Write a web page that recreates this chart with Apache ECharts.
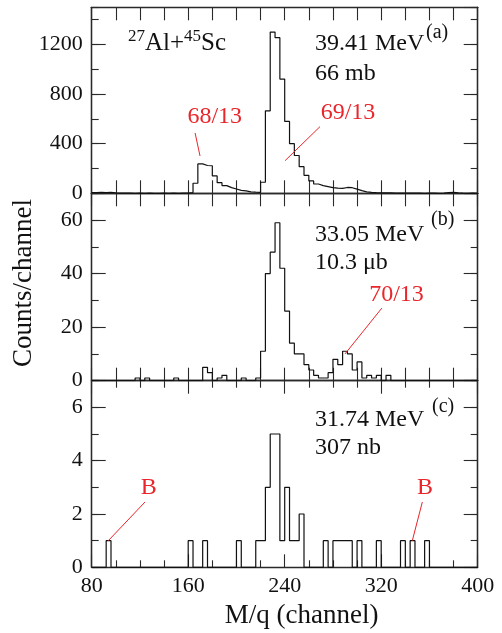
<!DOCTYPE html>
<html>
<head>
<meta charset="utf-8">
<script src="https://cdn.jsdelivr.net/npm/echarts@6/dist/echarts.min.js"></script>
<style>
  html, body { margin: 0; padding: 0; background: #fff; }
  #chart { width: 502px; height: 633px; }
</style>
</head>
<body>
<div id="chart"></div>
<script>
// Histogram binning: 4-channel bins from channel 80 up to 400
const FIRST_CHANNEL = 80;
const BIN_WIDTH = 4;

// (a) 39.41 MeV, counts per bin
const countsA = [
  6, 8, 5, 7, 4, 2, 1, 1, 0, 1,
  0, 1, 0, 0, 1, 0, 1, 0, 1, 2,
  6, 81, 237, 224, 222, 140, 86, 62, 46, 35,
  24, 19, 12, 9, 8, 89, 665, 1300, 1255, 921,
  580, 400, 305, 215, 145, 100, 75, 62, 54, 46,
  41, 40, 47, 45, 34, 22, 12, 8, 5, 4,
  3, 3, 2, 2, 1, 2, 1, 1, 0, 1,
  1, 0, 1, 6, 8, 4, 1, 0, 1, 0
];

// (b) 33.05 MeV, counts per bin
const countsB = [
  0, 0, 0, 0, 0, 0, 0, 0, 0, 1,
  0, 1, 0, 0, 0, 0, 0, 1, 0, 0,
  0, 0, 0, 5, 3, 0, 1, 2, 0, 0,
  0, 1, 0, 0, 1, 11, 40, 48, 59, 42,
  26, 14, 10, 10, 6, 4, 2, 1, 1, 3,
  8, 6, 11, 10, 4, 7, 1, 2, 1, 2,
  0, 2, 0, 0, 0, 0, 0, 0, 0, 0,
  0, 0, 0, 0, 0, 0, 0, 0, 0, 0
];

// (c) 31.74 MeV, counts per bin
const countsC = [
  0, 0, 0, 1, 0, 0, 0, 0, 0, 0,
  0, 0, 0, 0, 0, 0, 0, 0, 0, 0,
  1, 0, 0, 1, 0, 0, 0, 0, 0, 0,
  1, 0, 0, 0, 1, 1, 3, 5, 5, 1,
  3, 1, 1, 2, 0, 0, 0, 0, 1, 0,
  1, 1, 1, 1, 0, 1, 0, 0, 0, 1,
  0, 0, 0, 0, 1, 0, 1, 0, 0, 1,
  0, 0, 0, 0, 0, 0, 0, 0, 0, 0
];

// y tick labels / ranges per panel
const yMaxes = [1500, 70, 7];
const yMajorSteps = [400, 20, 2];
const yMinorSteps = [200, 10, 1];
const xTickLabels = [80, 160, 240, 320, 400];

const FONT = 'Liberation Serif';
const FRAME = '#2a2a2a';
const INK = '#111';
const RED = '#e8262b';
const X_MIN = 80, X_MAX = 400;
const PLOT_LEFT = 91.7, PLOT_RIGHT = 24.3;

const layout = [
  { top: 7.3, height: 186 },
  { top: 193.3, height: 187.4 },
  { top: 380.7, height: 186.6 }
];
const allCounts = [countsA, countsB, countsC];

function stepData(counts) {
  const pts = counts.map((c, i) => [FIRST_CHANNEL + i * BIN_WIDTH, c]);
  pts.push([FIRST_CHANNEL + counts.length * BIN_WIDTH, counts[counts.length - 1]]);
  return pts;
}

const lineStyle = { color: FRAME, width: 1.3 };
const tickStyle = { color: FRAME, width: 1.1 };

function xAxisDef(grid, position, isLast) {
  return {
    type: 'value', gridIndex: grid, position: position,
    min: X_MIN, max: X_MAX, interval: isLast ? 80 : 20,
    axisLine: { show: true, onZero: false, lineStyle: lineStyle },
    axisTick: { show: true, inside: true, length: 13, lineStyle: tickStyle },
    minorTick: { show: isLast, splitNumber: 4, length: 7, lineStyle: tickStyle },
    splitLine: { show: false },
    axisLabel: {
      show: isLast && position === 'bottom', margin: 8,
      fontFamily: FONT, fontSize: 22, color: INK,
      formatter: v => (xTickLabels.indexOf(v) >= 0 ? String(v) : '')
    }
  };
}

function yAxisDef(grid, position, panel, step, tickLen, withLabels) {
  return {
    type: 'value', gridIndex: grid, position: position,
    min: 0, max: yMaxes[panel], interval: step,
    axisLine: { show: true, onZero: false, lineStyle: lineStyle },
    axisTick: { show: true, inside: true, length: tickLen, lineStyle: tickStyle },
    splitLine: { show: false },
    axisLabel: {
      show: withLabels, showMaxLabel: false, margin: 9,
      fontFamily: FONT, fontSize: 22, color: INK,
      formatter: v => String(v)
    }
  };
}

const grids = [], xAxes = [], yAxes = [], series = [];
layout.forEach((box, i) => {
  const isLast = i === layout.length - 1;
  const gMain = grids.length;
  grids.push({ left: PLOT_LEFT, right: PLOT_RIGHT, top: box.top, height: box.height });
  const gMinor = grids.length;
  grids.push({ left: PLOT_LEFT, right: PLOT_RIGHT, top: box.top, height: box.height });

  const xIdx = xAxes.length;
  xAxes.push(xAxisDef(gMain, 'bottom', isLast));
  xAxes.push(xAxisDef(gMain, 'top', isLast));
  xAxes.push({ type: 'value', gridIndex: gMinor, min: X_MIN, max: X_MAX, show: false });

  const yIdx = yAxes.length;
  yAxes.push(yAxisDef(gMain, 'left', i, yMajorSteps[i], 14, true));
  yAxes.push(yAxisDef(gMain, 'right', i, yMajorSteps[i], 14, false));
  yAxes.push(yAxisDef(gMinor, 'left', i, yMinorSteps[i], 7, false));
  yAxes.push(yAxisDef(gMinor, 'right', i, yMinorSteps[i], 7, false));

  series.push({
    type: 'line', xAxisIndex: xIdx, yAxisIndex: yIdx,
    step: 'end', symbol: 'none', silent: true,
    data: stepData(allCounts[i]),
    lineStyle: { color: INK, width: 1.2 }, z: 3
  });
});

const chart = echarts.init(document.getElementById('chart'), null, { renderer: 'canvas' });
chart.setOption({
  animation: false,
  backgroundColor: '#fff',
  grid: grids, xAxis: xAxes, yAxis: yAxes, series: series
});

// Red isotope / background markers, anchored in data coordinates of each panel
const markers = [
  { panel: 0, text: '68/13', at: [182, 618], from: [165.7, 487], to: [169.8, 301] },
  { panel: 0, text: '69/13', at: [292.5, 648], from: [269.3, 538], to: [240.3, 263] },
  { panel: 1, text: '70/13', at: [332.7, 32.3], from: [320.5, 27.1], to: [290, 10] },
  { panel: 2, text: 'B', at: [127.3, 2.98], from: [124.2, 2.45], to: [93.8, 1.0] },
  { panel: 2, text: 'B', at: [356.4, 2.98], from: [354.1, 2.45], to: [345.8, 1.0] }
];

const px = (panel, pt) => chart.convertToPixel({ seriesIndex: panel }, pt);
const graphics = [];

markers.forEach(m => {
  const a = px(m.panel, m.from), b = px(m.panel, m.to), c = px(m.panel, m.at);
  graphics.push({
    type: 'line', silent: true, z: 10,
    shape: { x1: a[0], y1: a[1], x2: b[0], y2: b[1] },
    style: { stroke: RED, lineWidth: 1 }
  });
  graphics.push({
    type: 'text', silent: true, z: 10, x: c[0], y: c[1],
    style: { text: m.text, fill: RED, font: '24px "' + FONT + '"', align: 'center', verticalAlign: 'middle' }
  });
});

function label(text, x, y, size, align, va) {
  return {
    type: 'text', silent: true, z: 10, x: x, y: y,
    style: { text: text, fill: INK, font: size + 'px "' + FONT + '"', align: align || 'left', verticalAlign: va || 'middle' }
  };
}

// Beam energies, cross sections and panel letters
graphics.push(label('39.41 MeV', 315, 44, 24));
graphics.push(label('66 mb', 315, 74, 24));
graphics.push(label('(a)', 426, 33, 20));
graphics.push(label('33.05 MeV', 315, 235, 24));
graphics.push(label('10.3 \u03bcb', 315, 263, 24));
graphics.push(label('(b)', 431, 220, 20));
graphics.push(label('31.74 MeV', 315, 420, 24));
graphics.push(label('307 nb', 315, 448, 24));
graphics.push(label('(c)', 432, 407, 20));

// Reaction label with superscript mass numbers
graphics.push({
  type: 'text', silent: true, z: 10, x: 128, y: 28,
  style: {
    text: '{s|27}{m|Al+}{s|45}{m|Sc}',
    fill: INK, verticalAlign: 'top',
    rich: {
      m: { fontFamily: FONT, fontSize: 25, lineHeight: 30, fill: INK },
      s: { fontFamily: FONT, fontSize: 17, lineHeight: 17, verticalAlign: 'top', fill: INK }
    }
  }
});

// Axis titles
graphics.push(label('M/q (channel)', 301.7, 616, 27, 'center'));
graphics.push({
  type: 'text', silent: true, z: 10, x: 24, y: 283, rotation: Math.PI / 2,
  style: { text: 'Counts/channel', fill: INK, font: '27px "' + FONT + '"', align: 'center', verticalAlign: 'middle' }
});

chart.setOption({ graphic: graphics });
</script>
</body>
</html>
